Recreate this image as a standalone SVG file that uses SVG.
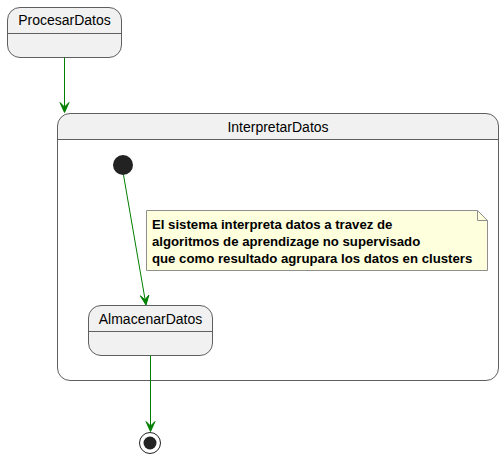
<svg xmlns="http://www.w3.org/2000/svg" width="504" height="459" viewBox="0 0 504 459">
<style>
.st{fill:#F1F1F1;stroke:#5F5F5F;stroke-width:1}
.ln{stroke:#5F5F5F;stroke-width:1}
.t{font-family:"Liberation Sans",Arial,sans-serif;font-size:14px;fill:#000}
.nt{font-family:"Liberation Sans",Arial,sans-serif;font-size:13.2px;font-weight:bold;fill:#000}
.c{stroke:#008000;stroke-width:1;fill:none}
.ah{fill:#008000;stroke:#008000}
</style>
<g id="ProcesarDatos">
<rect class="st" x="7.5" y="7.5" width="114" height="50" rx="12.5"/>
<line class="ln" x1="7.5" y1="33.5" x2="121.5" y2="33.5"/>
<text class="t" x="64.5" y="25" text-anchor="middle">ProcesarDatos</text>
</g>
<g id="InterpretarDatos">
<path d="M57.5,139.5 V125.5 A12.5,12.5 0 0 1 70,113.5 H486 A12.5,12.5 0 0 1 498.5,126 V139.5 Z" fill="#F1F1F1"/>
<rect x="57.5" y="113.5" width="441" height="267" rx="12.5" fill="none" stroke="#5F5F5F"/>
<line class="ln" x1="57.5" y1="139.5" x2="498.5" y2="139.5"/>
<text class="t" x="278" y="132" text-anchor="middle">InterpretarDatos</text>
</g>
<g id="start">
<circle cx="123" cy="165" r="10" fill="#222222"/>
</g>
<g id="note">
<path d="M146.5,210.5 H477.5 L487.5,220.5 V270.5 H146.5 Z" fill="#FEFFDD" stroke="#8F8F8F"/>
<path d="M477.5,210.5 V220.5 H487.5" fill="none" stroke="#8F8F8F"/>
<text class="nt" x="152" y="229">El sistema interpreta datos a travez de</text>
<text class="nt" x="152" y="246">algoritmos de aprendizage no supervisado</text>
<text class="nt" x="152" y="263">que como resultado agrupara los datos en clusters</text>
</g>
<g id="AlmacenarDatos">
<rect class="st" x="88.5" y="305.5" width="124" height="50" rx="12.5"/>
<line class="ln" x1="88.5" y1="331.5" x2="212.5" y2="331.5"/>
<text class="t" x="150.5" y="324" text-anchor="middle">AlmacenarDatos</text>
</g>
<g id="end">
<circle cx="150" cy="443" r="10.5" fill="none" stroke="#222222" stroke-width="1"/>
<circle cx="150" cy="443" r="6.5" fill="#222222"/>
</g>
<g id="connectors">
<line class="c" x1="64.5" y1="57.5" x2="64.5" y2="110"/>
<polygon class="ah" points="64.5,112.5 60,102.5 64.5,107 69,102.5"/>
<line class="c" x1="123.5" y1="175" x2="145.5" y2="302"/>
<polygon class="ah" points="146,305 140.3,295.8 145,299.7 148.9,295"/>
<line class="c" x1="150.5" y1="355.5" x2="150.5" y2="429"/>
<polygon class="ah" points="150.5,431.5 146,421.5 150.5,426 155,421.5"/>
</g>
</svg>
